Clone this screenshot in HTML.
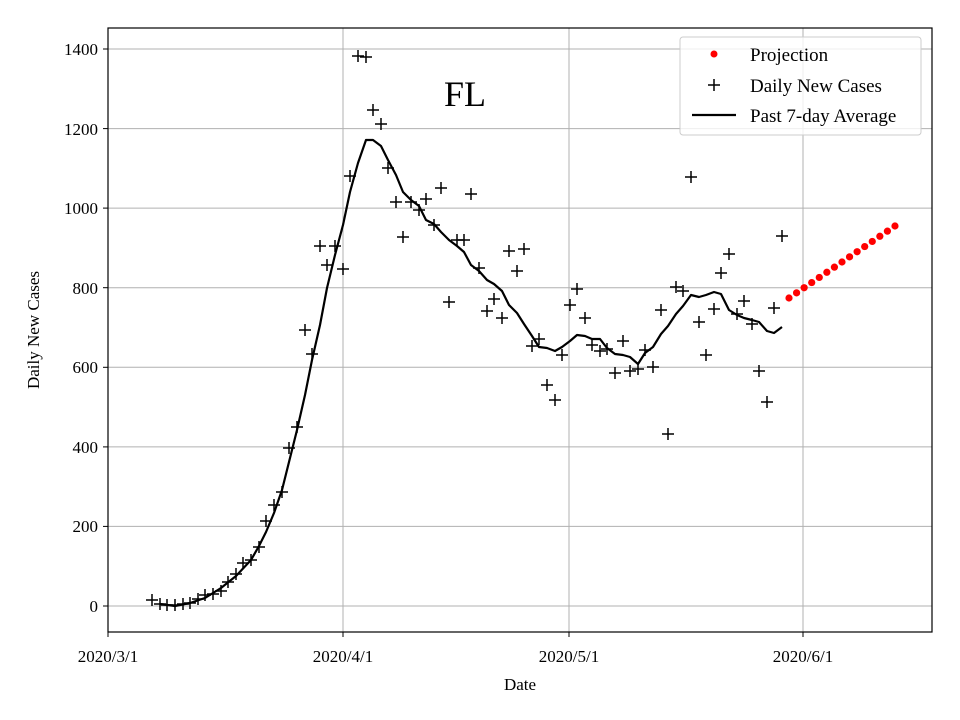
<!DOCTYPE html>
<html><head><meta charset="utf-8"><style>body{margin:0;background:#fff}svg{display:block}text{font-family:"Liberation Serif",serif;fill:#000}</style></head><body>
<svg width="960" height="720" viewBox="0 0 960 720">
<rect x="0" y="0" width="960" height="720" fill="#fff"/>
<g stroke="#b0b0b0" stroke-width="1">
<line x1="343" y1="28" x2="343" y2="632"/><line x1="569" y1="28" x2="569" y2="632"/><line x1="803" y1="28" x2="803" y2="632"/>
<line x1="108" y1="606" x2="932" y2="606"/><line x1="108" y1="526.4" x2="932" y2="526.4"/><line x1="108" y1="446.9" x2="932" y2="446.9"/><line x1="108" y1="367.3" x2="932" y2="367.3"/><line x1="108" y1="287.7" x2="932" y2="287.7"/><line x1="108" y1="208.1" x2="932" y2="208.1"/><line x1="108" y1="128.6" x2="932" y2="128.6"/><line x1="108" y1="49" x2="932" y2="49"/>
</g>
<polyline fill="none" stroke="#000" stroke-width="2.2" stroke-linejoin="round" points="160,604 175,606 190,603 205,598 221,588 236,576 251,560 259,546 266,532 274,513 282,490 289,462 297,430 305,395 312,360 320,325 327,288 335,255 343,225 350,192 358,163 366,140 373,140 381,146 388,160 396,175 403,192 411,200 419,206 426,220 434,224 441,232 449,240 457,246 464,252 471,265 479,271 487,280 494,284 502,291 509,305 517,313 524,324 532,336 539,347 547,348 555,351 562,347 570,341 577,335 585,336 592,339 600,339 607,348 615,354 623,355 630,357 638,364 645,353 653,347 661,334 668,326 676,314 683,306 691,295 699,297 706,295 714,292 721,294 729,310 737,315 744,318 752,320 759,322 767,331 774,333 782,327"/>
<g stroke="#000" stroke-width="1.5" id="crosses"></g>
<g fill="#ff0000" id="dots"></g>
<rect x="108" y="28" width="824" height="604" fill="none" stroke="#000" stroke-width="1.2"/>
<g stroke="#000" stroke-width="1">
<line x1="108" y1="632" x2="108" y2="637"/><line x1="343" y1="632" x2="343" y2="637"/><line x1="569" y1="632" x2="569" y2="637"/><line x1="803" y1="632" x2="803" y2="637"/>
<line x1="103" y1="606" x2="108" y2="606"/><line x1="103" y1="526.4" x2="108" y2="526.4"/><line x1="103" y1="446.9" x2="108" y2="446.9"/><line x1="103" y1="367.3" x2="108" y2="367.3"/><line x1="103" y1="287.7" x2="108" y2="287.7"/><line x1="103" y1="208.1" x2="108" y2="208.1"/><line x1="103" y1="128.6" x2="108" y2="128.6"/><line x1="103" y1="49" x2="108" y2="49"/>
</g>
<g font-size="17" text-anchor="end">
<text x="98" y="612">0</text><text x="98" y="532">200</text><text x="98" y="453">400</text><text x="98" y="373">600</text><text x="98" y="294">800</text><text x="98" y="214">1000</text><text x="98" y="135">1200</text><text x="98" y="55">1400</text>
</g>
<g font-size="17" text-anchor="middle">
<text x="108" y="662">2020/3/1</text><text x="343" y="662">2020/4/1</text><text x="569" y="662">2020/5/1</text><text x="803" y="662">2020/6/1</text>
<text x="520" y="690">Date</text>
</g>
<text font-size="17" text-anchor="middle" transform="translate(39,330) rotate(-90)">Daily New Cases</text>
<text x="465" y="106" font-size="36" text-anchor="middle">FL</text>
<rect x="680" y="37" width="241" height="98" rx="3" fill="#fff" fill-opacity="0.8" stroke="#ccc"/>
<circle cx="714" cy="54" r="3.5" fill="#ff0000"/>
<g stroke="#000" stroke-width="1.5"><line x1="708" y1="85" x2="720" y2="85"/><line x1="714" y1="79" x2="714" y2="91"/></g>
<line x1="692" y1="115" x2="736" y2="115" stroke="#000" stroke-width="2.2"/>
<g font-size="19"><text x="750" y="61">Projection</text><text x="750" y="92">Daily New Cases</text><text x="750" y="122">Past 7-day Average</text></g>
</svg>
<script>
var pts=[[152,600],[160,604],[167,605],[175,605],[183,604],[190,603],[198,599],[205,595],[213,594],[221,591],[228,582],[236,574],[243,563],[251,560],[259,547],[266,521],[274,505],[282,492],[289,448],[297,427],[305,330],[312,354],[320,246],[327,265],[335,246],[343,269],[350,176],[358,56],[366,57],[373,110],[381,124],[388,168],[396,202],[403,237],[411,202],[419,210],[426,199],[434,225],[441,188],[449,302],[457,240],[464,240],[471,194],[479,268],[487,311],[494,299],[502,318],[509,251],[517,271],[524,249],[532,346],[539,339],[547,385],[555,400],[562,355],[570,305],[577,289],[585,318],[592,345],[600,351],[607,349],[615,373],[623,341],[630,371],[638,369],[645,350],[653,367],[661,310],[668,434],[676,287],[683,291],[691,177],[699,322],[706,355],[714,309],[721,273],[729,254],[737,314],[744,301],[752,324],[759,371],[767,402],[774,308],[782,236]];
var ns="http://www.w3.org/2000/svg",g=document.getElementById("crosses"),s="";
pts.forEach(function(p){s+='<line x1="'+(p[0]-6)+'" y1="'+p[1]+'" x2="'+(p[0]+6)+'" y2="'+p[1]+'"/><line x1="'+p[0]+'" y1="'+(p[1]-6)+'" x2="'+p[0]+'" y2="'+(p[1]+6)+'"/>';});
g.innerHTML=s;var d="";
for(var i=0;i<15;i++){d+='<circle cx="'+(789+i*7.57)+'" cy="'+(298-i*72/14)+'" r="3.6"/>';}
document.getElementById("dots").innerHTML=d;
</script>
</body></html>
